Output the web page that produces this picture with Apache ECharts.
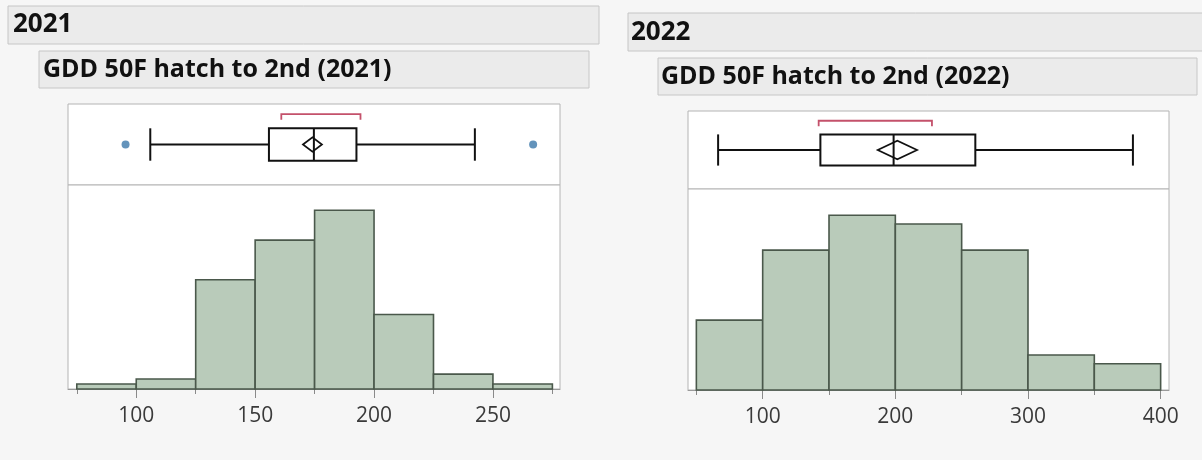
<!DOCTYPE html>
<html>
<head>
<meta charset="utf-8">
<title>GDD 50F hatch to 2nd</title>
<script src="https://cdn.jsdelivr.net/npm/echarts@6/dist/echarts.min.js"></script>
<style>
  html, body { margin: 0; padding: 0; background: #f6f6f6; }
  #main { width: 1202px; height: 460px; }
</style>
</head>
<body>
<div id="main"></div>
<script>
// ---- data ----
// 2021 histogram: bin edges + counts
var binEdges2021 = [75, 100, 125, 150, 175, 200, 225, 250, 275];
var counts2021 = [1, 2, 22, 30, 36, 15, 3, 1];
// 2021 box plot: min whisker, q1, median, q3, max whisker
var box2021 = [105.9, 155.8, 174.7, 192.6, 242.4];
var mean2021 = 174.1;
var meanCI2021 = [170.1, 178.1];
var shortest2021 = [161, 194.3];
var outliers2021 = [95.5, 266.9];
var tickValues2021 = [75, 100, 125, 150, 175, 200, 225, 250, 275];
var tickLabels2021 = [100, 150, 200, 250];

// 2022
var binEdges2022 = [50, 100, 150, 200, 250, 300, 350, 400];
var counts2022 = [8, 16, 20, 19, 16, 4, 3];
var box2022 = [66.4, 143.5, 198.7, 260.3, 379.1];
var mean2022 = 201.5;
var meanCI2022 = [186.7, 216.4];
var shortest2022 = [142.2, 227.6];
var outliers2022 = [];
var tickValues2022 = [50, 100, 150, 200, 250, 300, 350, 400];
var tickLabels2022 = [100, 200, 300, 400];

// ---- colours ----
var barFill = '#b9cbba';
var barLine = '#4a584b';
var frameColor = '#b4b4b4';
var headFill = '#ebebeb';
var headLine = '#c6c6c6';

var chart = echarts.init(document.getElementById('main'));

// builds grids / axes / series for one panel
function panel(p, idx, opt) {
    var gBox = idx * 2, gHist = idx * 2 + 1;
    // box plot area
    opt.grid.push({ left: p.left, right: p.right, top: p.top, height: p.boxH,
        show: true, backgroundColor: '#fff', borderColor: frameColor, borderWidth: 1 });
    // histogram area
    opt.grid.push({ left: p.left, right: p.right, top: p.top + p.boxH, bottom: p.bottom,
        show: true, backgroundColor: '#fff', borderColor: frameColor, borderWidth: 1 });

    var xBox = opt.xAxis.length;
    opt.xAxis.push({ type: 'value', gridIndex: gBox, min: p.xMin, max: p.xMax, show: false });
    var xHist = opt.xAxis.length;
    opt.xAxis.push({ type: 'value', gridIndex: gHist, min: p.xMin, max: p.xMax, position: 'bottom',
        splitLine: { show: false },
        axisLine: { show: true, lineStyle: { color: '#9a9a9a', width: 1 } },
        axisTick: { show: true, customValues: p.ticks, length: 5, lineStyle: { color: '#8a8a8a' } },
        axisLabel: { show: false } });
    // second axis: long ticks + labels
    opt.xAxis.push({ type: 'value', gridIndex: gHist, min: p.xMin, max: p.xMax, position: 'bottom',
        splitLine: { show: false },
        axisLine: { show: false },
        axisTick: { show: true, customValues: p.labels, length: 9, lineStyle: { color: '#8a8a8a' } },
        axisLabel: { show: true, customValues: p.labels, margin: 17, color: '#3a3a3a',
            fontSize: 21, fontFamily: 'Open Sans' } });

    var yBox = opt.yAxis.length;
    opt.yAxis.push({ type: 'value', gridIndex: gBox, min: 0, max: 1, show: false });
    var yHist = opt.yAxis.length;
    opt.yAxis.push({ type: 'value', gridIndex: gHist, min: 0, max: p.yMax, show: false });

    // histogram bars
    var hist = [];
    for (var i = 0; i < p.counts.length; i++) {
        hist.push([p.edges[i], p.edges[i + 1], p.counts[i]]);
    }
    opt.series.push({
        type: 'custom', xAxisIndex: xHist, yAxisIndex: yHist, data: hist,
        renderItem: function (params, api) {
            var a = api.coord([api.value(0), api.value(2)]);
            var b = api.coord([api.value(1), 0]);
            return { type: 'rect',
                shape: { x: a[0], y: a[1], width: b[0] - a[0], height: b[1] - a[1] },
                style: { fill: barFill, stroke: barLine, lineWidth: 1.6 } };
        }
    });

    // box plot (outlier box, mean diamond, shortest half bracket)
    var dh = p.diamondH;
    opt.series.push({
        type: 'custom', xAxisIndex: xBox, yAxisIndex: yBox,
        data: [p.box.concat([p.mean], p.ci, p.shortest)],
        renderItem: function (params, api) {
            var v = [];
            for (var k = 0; k < 10; k++) v.push(api.value(k));
            var c = function (x, y) { return api.coord([x, y]); };
            var lo = 0.3, hi = 0.7, mid = 0.5;
            var ln = { stroke: '#111', lineWidth: 2, fill: null };
            function line(x1, y1, x2, y2, st) {
                var s = c(x1, y1), e = c(x2, y2);
                return { type: 'line', shape: { x1: s[0], y1: s[1], x2: e[0], y2: e[1] }, style: st || ln };
            }
            var q1a = c(v[1], hi), q3b = c(v[3], lo);
            var red = { stroke: '#c4516b', lineWidth: 1.8, fill: null };
            return { type: 'group', children: [
                line(v[0], mid, v[1], mid),
                line(v[3], mid, v[4], mid),
                line(v[0], lo, v[0], hi),
                line(v[4], lo, v[4], hi),
                { type: 'rect', shape: { x: q1a[0], y: q1a[1], width: q3b[0] - q1a[0], height: q3b[1] - q1a[1] },
                  style: { fill: 'none', stroke: '#111', lineWidth: 2 } },
                line(v[2], lo, v[2], hi),
                { type: 'polygon', shape: { points: [c(v[6], mid), c(v[5], mid + dh), c(v[7], mid), c(v[5], mid - dh)] },
                  style: { fill: 'none', stroke: '#111', lineWidth: 1.7 } },
                { type: 'polyline', shape: { points: [c(v[8], 0.805), c(v[8], 0.875), c(v[9], 0.875), c(v[9], 0.805)] },
                  style: red }
            ] };
        }
    });

    // outliers
    opt.series.push({
        type: 'scatter', xAxisIndex: xBox, yAxisIndex: yBox, symbolSize: 8,
        itemStyle: { color: '#3c78aa' },
        data: p.outliers.map(function (o) { return [o, 0.5]; })
    });
}

var option = {
    animation: false,
    grid: [], xAxis: [], yAxis: [], series: [],
    graphic: [
        // 2021 headers
        { type: 'rect', shape: { x: 8, y: 6, width: 591, height: 38 }, style: { fill: headFill, stroke: headLine, lineWidth: 1 } },
        { type: 'text', x: 13, y: 25, style: { text: '2021', fill: '#111', font: 'bold 26px "Open Sans"', verticalAlign: 'middle' } },
        { type: 'rect', shape: { x: 39, y: 51, width: 550, height: 37 }, style: { fill: headFill, stroke: headLine, lineWidth: 1 } },
        { type: 'text', x: 43, y: 70, style: { text: 'GDD 50F hatch to 2nd (2021)', fill: '#111', font: 'bold 25px "Open Sans"', verticalAlign: 'middle' } },
        // 2022 headers
        { type: 'rect', shape: { x: 628, y: 13, width: 600, height: 38 }, style: { fill: headFill, stroke: headLine, lineWidth: 1 } },
        { type: 'text', x: 631, y: 33, style: { text: '2022', fill: '#111', font: 'bold 26px "Open Sans"', verticalAlign: 'middle' } },
        { type: 'rect', shape: { x: 658, y: 58, width: 539, height: 37 }, style: { fill: headFill, stroke: headLine, lineWidth: 1 } },
        { type: 'text', x: 661, y: 77, style: { text: 'GDD 50F hatch to 2nd (2022)', fill: '#111', font: 'bold 25px "Open Sans"', verticalAlign: 'middle' } }
    ]
};

panel({ left: 68, right: 642, top: 104, boxH: 81, bottom: 71, xMin: 71.3, xMax: 278.2, yMax: 41.1,
        edges: binEdges2021, counts: counts2021, box: box2021, mean: mean2021, ci: meanCI2021,
        shortest: shortest2021, outliers: outliers2021, ticks: tickValues2021, labels: tickLabels2021,
        diamondH: 0.09 }, 0, option);
panel({ left: 688, right: 33, top: 111, boxH: 78, bottom: 70, xMin: 43.7, xMax: 406.3, yMax: 23,
        edges: binEdges2022, counts: counts2022, box: box2022, mean: mean2022, ci: meanCI2022,
        shortest: shortest2022, outliers: outliers2022, ticks: tickValues2022, labels: tickLabels2022,
        diamondH: 0.12 }, 1, option);

chart.setOption(option);
</script>
</body>
</html>
